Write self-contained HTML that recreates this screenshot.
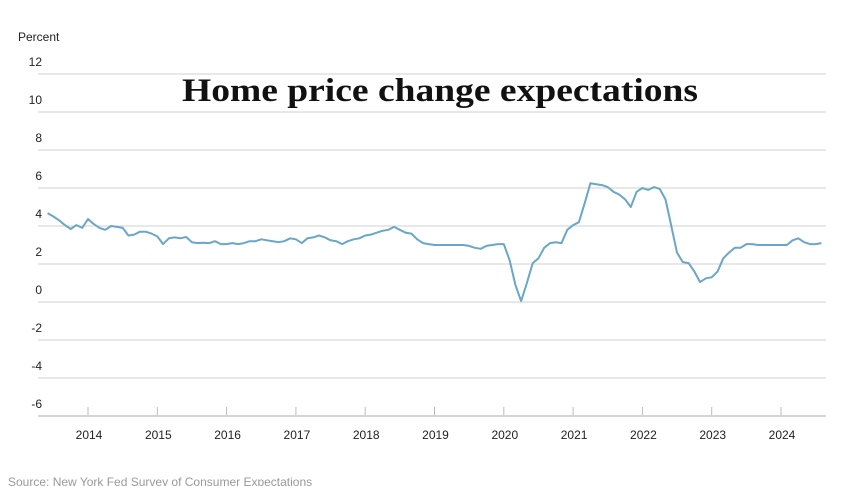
<!DOCTYPE html>
<html><head><meta charset="utf-8"><style>
html,body{margin:0;padding:0;background:#fff;}
svg{display:block;font-family:"Liberation Sans",sans-serif;}
</style></head><body>
<svg id="chart" width="848" height="486" viewBox="0 0 848 486">
<text x="18" y="41" font-size="12" fill="#222">Percent</text>
<text x="440" y="101" font-family="Liberation Serif,serif" font-weight="bold" font-size="33" fill="#111" text-anchor="middle" textLength="516" lengthAdjust="spacingAndGlyphs">Home price change expectations</text>
<g id="grid"></g><g id="xaxis"></g>
<path id="line" fill="none" stroke="#6aa6c8" stroke-width="2" stroke-linejoin="round"></path>
<text x="8" y="486" font-size="12" fill="#999">Source: New York Fed Survey of Consumer Expectations</text>
</svg>
<script>
const yTicks=[12,10,8,6,4,2,0,-2,-4,-6];
const xYears=[2014,2015,2016,2017,2018,2019,2020,2021,2022,2023,2024];
const startYear=2013, startMonth=6;
const values=[4.68,4.5,4.3,4.05,3.84,4.05,3.9,4.37,4.1,3.9,3.8,4.0,3.95,3.9,3.5,3.55,3.7,3.7,3.6,3.45,3.05,3.35,3.4,3.35,3.42,3.15,3.1,3.12,3.1,3.2,3.05,3.05,3.1,3.05,3.1,3.2,3.2,3.3,3.25,3.2,3.15,3.2,3.35,3.3,3.1,3.35,3.4,3.5,3.4,3.25,3.2,3.05,3.2,3.3,3.35,3.5,3.55,3.65,3.75,3.8,3.95,3.8,3.65,3.6,3.3,3.1,3.05,3.0,3.0,3.0,3.0,3.0,3.0,2.95,2.85,2.8,2.95,3.0,3.05,3.05,2.2,0.9,0.05,1.0,2.05,2.3,2.85,3.1,3.15,3.1,3.8,4.05,4.2,5.2,6.25,6.2,6.15,6.05,5.8,5.65,5.4,5.0,5.8,6.0,5.9,6.05,5.95,5.4,4.0,2.6,2.1,2.05,1.6,1.05,1.25,1.3,1.6,2.3,2.6,2.85,2.85,3.05,3.05,3.0,3.0,3.0,3.0,3.0,3.0,3.25,3.35,3.15,3.05,3.05,3.1];
const NS="http://www.w3.org/2000/svg";
const yS=v=>302-19*v;
const xS=t=>88+69.3*(t-2014);
const grid=document.getElementById('grid'), xa=document.getElementById('xaxis');
yTicks.forEach(v=>{
  const l=document.createElementNS(NS,'line');
  
  
  l.setAttribute('x1',38);l.setAttribute('x2',826);l.setAttribute('y1',yS(v));l.setAttribute('y2',yS(v));
  l.setAttribute('stroke',v===-6?'#bbb':'#d9d9d9');l.setAttribute('stroke-width',1.2);
  grid.appendChild(l);
  const t=document.createElementNS(NS,'text');
  
  
  t.setAttribute('x',42);t.setAttribute('y',yS(v)-8);t.setAttribute('text-anchor','end');
  t.setAttribute('font-size',12);t.setAttribute('fill','#222');t.textContent=v;
  grid.appendChild(t);
});
xYears.forEach(y=>{
  const x=xS(y);
  const l=document.createElementNS(NS,'line');
  
  
  l.setAttribute('x1',x);l.setAttribute('x2',x);l.setAttribute('y1',407);l.setAttribute('y2',415);
  l.setAttribute('stroke','#bbb');xa.appendChild(l);
  const t=document.createElementNS(NS,'text');
  
  
  t.setAttribute('x',x+1);t.setAttribute('y',439);t.setAttribute('text-anchor','middle');
  t.setAttribute('font-size',12);t.setAttribute('fill','#222');t.textContent=y;
  xa.appendChild(t);
});
let d='';
values.forEach((v,i)=>{
  const t=startYear+(startMonth-1+i)/12;
  d+=(i?'L':'M')+xS(t).toFixed(1)+','+yS(v).toFixed(1);
});
document.getElementById('line').setAttribute('d',d);
</script>
</body></html>
